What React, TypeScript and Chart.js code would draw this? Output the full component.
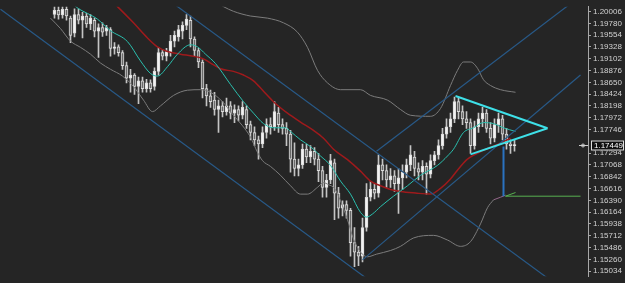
import React, { useEffect, useRef } from 'react';
import { Chart, registerables } from 'chart.js';
Chart.register(...registerables);

// ---- candle data (one candle per index) ----
const candleOpen = [
  1.1995, 1.2003, 1.1994, 1.2005, 1.1988, 1.1959, 1.1995, 1.1984, 1.1992, 1.1977,
  1.1984, 1.1963, 1.1970, 1.1963, 1.1966, 1.1930, 1.1933, 1.1922, 1.1897, 1.1873,
  1.1879, 1.1857, 1.1868, 1.1853, 1.1864, 1.1857, 1.1886, 1.1922, 1.1915, 1.1922,
  1.1944, 1.1952, 1.1963, 1.1974, 1.1984, 1.1948, 1.1926, 1.1904, 1.1853, 1.1839,
  1.1831, 1.1813, 1.1820, 1.1809, 1.1820, 1.1806, 1.1813, 1.1802, 1.1813, 1.1784,
  1.1769, 1.1755, 1.1747, 1.1769, 1.1784, 1.1780, 1.1806, 1.1784, 1.1777, 1.1766,
  1.1718, 1.1700, 1.1707, 1.1737, 1.1722, 1.1733, 1.1718, 1.1696, 1.1664, 1.1678,
  1.1711, 1.1653, 1.1624, 1.1631, 1.1620, 1.1558, 1.1540, 1.1532, 1.1587, 1.1645,
  1.1660, 1.1653, 1.1707, 1.1696, 1.1678, 1.1686, 1.1671, 1.1682, 1.1693, 1.1707,
  1.1722, 1.1700, 1.1693, 1.1704, 1.1689, 1.1715, 1.1726, 1.1744, 1.1766, 1.1780,
  1.1795, 1.1828, 1.1809, 1.1795, 1.1788, 1.1744, 1.1780, 1.1795, 1.1806, 1.1777,
  1.1758, 1.1784, 1.1795, 1.1766, 1.1747, 1.1744,
];
const candleHigh = [
  1.2016, 1.2014, 1.2018, 1.2012, 1.1992, 1.2006, 1.2006, 1.1999, 1.1997, 1.1995,
  1.1988, 1.1977, 1.1979, 1.1974, 1.1970, 1.1941, 1.1937, 1.1926, 1.1904, 1.1890,
  1.1882, 1.1875, 1.1875, 1.1871, 1.1870, 1.1893, 1.1932, 1.1928, 1.1930, 1.1955,
  1.1963, 1.1974, 1.1981, 1.1995, 1.1992, 1.1952, 1.1930, 1.1908, 1.1861, 1.1850,
  1.1846, 1.1831, 1.1828, 1.1835, 1.1828, 1.1822, 1.1820, 1.1828, 1.1820, 1.1791,
  1.1780, 1.1762, 1.1780, 1.1795, 1.1797, 1.1828, 1.1817, 1.1795, 1.1788, 1.1773,
  1.1749, 1.1718, 1.1747, 1.1747, 1.1744, 1.1740, 1.1729, 1.1704, 1.1689, 1.1727,
  1.1718, 1.1664, 1.1638, 1.1638, 1.1624, 1.1587, 1.1551, 1.1605, 1.1671, 1.1675,
  1.1671, 1.1726, 1.1718, 1.1707, 1.1700, 1.1696, 1.1700, 1.1707, 1.1718, 1.1744,
  1.1733, 1.1711, 1.1715, 1.1711, 1.1726, 1.1733, 1.1755, 1.1777, 1.1795, 1.1806,
  1.1837, 1.1835, 1.1820, 1.1809, 1.1795, 1.1791, 1.1806, 1.1817, 1.1813, 1.1788,
  1.1795, 1.1806, 1.1802, 1.1777, 1.1755, 1.1755,
];
const candleLow = [
  1.1988, 1.1986, 1.1988, 1.1984, 1.1941, 1.1952, 1.1977, 1.1950, 1.1970, 1.1966,
  1.1952, 1.1913, 1.1953, 1.1955, 1.1915, 1.1919, 1.1915, 1.1890, 1.1864, 1.1846,
  1.1842, 1.1824, 1.1846, 1.1846, 1.1846, 1.1850, 1.1879, 1.1908, 1.1906, 1.1915,
  1.1933, 1.1944, 1.1948, 1.1966, 1.1933, 1.1915, 1.1893, 1.1835, 1.1820, 1.1817,
  1.1802, 1.1769, 1.1799, 1.1802, 1.1795, 1.1788, 1.1791, 1.1795, 1.1777, 1.1755,
  1.1744, 1.1718, 1.1740, 1.1758, 1.1766, 1.1773, 1.1769, 1.1766, 1.1744, 1.1693,
  1.1686, 1.1686, 1.1700, 1.1711, 1.1711, 1.1707, 1.1675, 1.1645, 1.1645, 1.1671,
  1.1602, 1.1605, 1.1609, 1.1605, 1.1532, 1.1512, 1.1514, 1.1521, 1.1580, 1.1638,
  1.1642, 1.1645, 1.1678, 1.1664, 1.1664, 1.1656, 1.1614, 1.1660, 1.1682, 1.1696,
  1.1686, 1.1678, 1.1678, 1.1651, 1.1682, 1.1707, 1.1718, 1.1737, 1.1758, 1.1769,
  1.1788, 1.1795, 1.1784, 1.1777, 1.1729, 1.1737, 1.1769, 1.1780, 1.1769, 1.1747,
  1.1751, 1.1769, 1.1755, 1.1737, 1.1729, 1.1733,
];
const candleClose = [
  1.2003, 1.1994, 1.2005, 1.1992, 1.1955, 1.1995, 1.1984, 1.1992, 1.1977, 1.1988,
  1.1963, 1.1970, 1.1961, 1.1970, 1.1930, 1.1933, 1.1922, 1.1897, 1.1873, 1.1879,
  1.1857, 1.1868, 1.1853, 1.1864, 1.1853, 1.1886, 1.1922, 1.1915, 1.1924, 1.1944,
  1.1955, 1.1966, 1.1974, 1.1986, 1.1948, 1.1926, 1.1904, 1.1853, 1.1839, 1.1828,
  1.1813, 1.1820, 1.1809, 1.1820, 1.1806, 1.1813, 1.1802, 1.1817, 1.1784, 1.1769,
  1.1755, 1.1747, 1.1769, 1.1784, 1.1780, 1.1809, 1.1784, 1.1777, 1.1766, 1.1718,
  1.1700, 1.1707, 1.1737, 1.1722, 1.1733, 1.1718, 1.1696, 1.1664, 1.1678, 1.1715,
  1.1653, 1.1624, 1.1631, 1.1620, 1.1558, 1.1540, 1.1532, 1.1587, 1.1645, 1.1660,
  1.1653, 1.1707, 1.1696, 1.1678, 1.1686, 1.1671, 1.1682, 1.1693, 1.1707, 1.1726,
  1.1700, 1.1693, 1.1704, 1.1689, 1.1715, 1.1726, 1.1744, 1.1766, 1.1780, 1.1795,
  1.1828, 1.1809, 1.1795, 1.1788, 1.1744, 1.1780, 1.1795, 1.1806, 1.1777, 1.1758,
  1.1784, 1.1795, 1.1766, 1.1747, 1.1744, 1.17449,
];

// ---- price axis ----
const priceTicks = [
  1.20006, 1.1978, 1.19554, 1.19328, 1.19102, 1.18876, 1.1865, 1.18424, 1.18198,
  1.17972, 1.17746, 1.17294, 1.17068, 1.16842, 1.16616, 1.1639, 1.16164, 1.15938,
  1.15712, 1.15486, 1.1526, 1.15034,
];
const priceMin = 1.14938;
const priceMax = 1.20097;
const lastPrice = 1.17449;

// ---- indicators: [bar index, price] ----
const maFast = [
  [4, 1.2019], [6, 1.2006], [8.25, 1.1997], [10.75, 1.1986], [14, 1.1964], [18.25, 1.1943],
  [21.5, 1.1906], [24, 1.1882], [25.75, 1.1877], [28.25, 1.1895], [30.75, 1.1919], [34, 1.1937],
  [35.75, 1.1933], [37.75, 1.1919], [40.25, 1.1901], [44, 1.1861], [47.25, 1.1828], [49.75, 1.1806],
  [52.25, 1.1786], [54.75, 1.1778], [57.75, 1.1778], [59, 1.1771], [61.5, 1.1755], [64, 1.1742],
  [66.5, 1.1724], [69, 1.1706], [71.5, 1.1676], [74, 1.1651], [76.5, 1.1616], [78, 1.1607],
  [79.5, 1.1613], [81.5, 1.1627], [84.75, 1.1647], [88.25, 1.1667], [91.5, 1.1687], [95.75, 1.1706],
  [98.25, 1.1724], [99.75, 1.1737], [102.25, 1.1769], [104.75, 1.1778], [107.25, 1.1788],
  [109.75, 1.1786], [112.25, 1.1778], [115.25, 1.1771],
];
const maSlow = [
  [12.75, 1.2032], [15.75, 1.201], [19.75, 1.1979], [23.25, 1.195], [25.75, 1.1933], [28.25, 1.1924],
  [31.5, 1.1919], [34.75, 1.1915], [37.25, 1.191], [39, 1.1902], [41.5, 1.1891], [44.75, 1.1886],
  [47.25, 1.1879], [49.75, 1.1868], [52.25, 1.1848], [54.75, 1.1828], [58.25, 1.1806], [61.5, 1.1789],
  [64.75, 1.1773], [67.25, 1.1758], [69.75, 1.1737], [73.25, 1.1717], [76.5, 1.1695], [79, 1.1676],
  [81.5, 1.1667], [84, 1.166], [86.5, 1.1656], [90.25, 1.1653], [94, 1.1651], [96.5, 1.1662],
  [99, 1.168], [101.5, 1.1704], [103.25, 1.1718], [107.25, 1.1735], [110.75, 1.1746], [114, 1.1758],
];
const bandUpper = [
  [40.25, 1.2019], [42.25, 1.201], [44.75, 1.2001], [49, 1.1992], [53.25, 1.1988], [57.25, 1.1979],
  [60.75, 1.1961], [63.25, 1.1932], [65.75, 1.1888], [68.25, 1.1864], [71.5, 1.1851], [76.5, 1.1851],
  [79, 1.184], [83.25, 1.1831], [86.5, 1.1813], [89, 1.1802], [94, 1.18], [96.5, 1.1815], [99, 1.1859],
  [100.75, 1.1888], [102.25, 1.1904], [104, 1.1904], [105.75, 1.1892], [107.25, 1.187], [109, 1.1859],
  [111.5, 1.1851], [115.25, 1.1846],
];
const bandLower = [
  [-1, 1.1988], [1.5, 1.1968], [4, 1.1944], [6.5, 1.1932], [9, 1.1919], [11.5, 1.1902], [14, 1.189],
  [17, 1.1877], [19.75, 1.1857], [22.25, 1.1831], [24.5, 1.1809], [26.5, 1.182], [29.75, 1.184],
  [33.25, 1.185], [36.5, 1.1851], [39, 1.1846], [42, 1.1828], [44.5, 1.1804], [47, 1.1782], [49, 1.176],
  [50.75, 1.1731], [52, 1.1715], [54, 1.1704], [56.5, 1.1687], [59, 1.1667], [61.5, 1.1651],
  [63.25, 1.1651], [65.75, 1.1664], [67.25, 1.1673], [68.5, 1.1669], [70, 1.1662], [71.5, 1.1638],
  [73.25, 1.1602], [74.75, 1.1565], [76.5, 1.154], [78.25, 1.1531], [80.5, 1.1536], [84, 1.1543],
  [86.5, 1.1551], [89.75, 1.1567], [94.75, 1.1572], [98.25, 1.1563], [101.5, 1.1551], [104, 1.156],
  [106.5, 1.1594], [108.25, 1.1625], [109.75, 1.164],
];
const bandLowerTail = [[109.75, 1.164], [111.5, 1.1645], [112.75, 1.1649]];

// ---- drawn objects: [bar index, price] ----
const downChannelLower = [[-13.5, 1.2005], [81.5, 1.147]];
const downChannelUpper = [[26.5, 1.2034], [126.5, 1.1472]];
const upChannelUpper = [[80.5, 1.1733], [130.25, 1.2023]];
const upChannelLower = [[77, 1.1525], [131.5, 1.1879]];
const triangleUpper = [[100.25, 1.1839], [123.25, 1.1777]];
const triangleLower = [[104, 1.1727], [123.25, 1.1777]];
const targetDrop = [[112.25, 1.1742], [112.25, 1.1647]];
const targetLevel = [[112.75, 1.1647], [131.5, 1.1647]];
const targetStub = [[112.75, 1.1647], [115.25, 1.1654]];

const toXY = (arr: number[][]) => arr.map(([x, y]) => ({ x, y }));

function lineSet(arr: number[][], color: string, width: number, order: number, smooth = false) {
  return {
    type: 'line' as const,
    data: toXY(arr),
    borderColor: color,
    borderWidth: width,
    pointRadius: 0,
    fill: false,
    tension: smooth ? 0.4 : 0,
    cubicInterpolationMode: smooth ? ('monotone' as const) : ('default' as const),
    order,
  };
}

export default function App() {
  const ref = useRef<HTMLCanvasElement>(null);

  useEffect(() => {
    document.body.style.margin = '0';
    const idx = candleOpen.map((_, i) => i);

    const background = {
      id: 'background',
      beforeDraw(c: any) {
        const ctx = c.ctx;
        ctx.save();
        ctx.fillStyle = '#252525';
        ctx.fillRect(0, 0, c.width, c.height);
        ctx.restore();
      },
    };

    const priceTag = {
      id: 'priceTag',
      afterDraw(c: any) {
        const ctx = c.ctx;
        const yScale = c.scales.y;
        const y = Math.round(yScale.getPixelForValue(lastPrice)) + 0.5;
        const left = yScale.left;
        ctx.save();
        ctx.strokeStyle = '#cfcfcf';
        ctx.lineWidth = 1;
        ctx.beginPath();
        ctx.moveTo(left - 9, y);
        ctx.lineTo(left, y);
        ctx.stroke();
        ctx.beginPath();
        ctx.arc(left - 5, y, 1.5, 0, Math.PI * 2);
        ctx.stroke();
        ctx.fillStyle = '#111111';
        ctx.fillRect(left + 3, y - 5, 33, 10);
        ctx.strokeStyle = '#dedede';
        ctx.strokeRect(left + 3.5, y - 4.5, 32, 9);
        ctx.fillStyle = '#ffffff';
        ctx.font = '8px "Liberation Sans", Arial, sans-serif';
        ctx.textBaseline = 'middle';
        ctx.textAlign = 'left';
        ctx.fillText(lastPrice.toFixed(5), left + 6, y + 0.5);
        ctx.restore();
      },
    };

    const chart = new Chart(ref.current as HTMLCanvasElement, {
      type: 'line',
      data: {
        datasets: [
          {
            type: 'bar',
            data: idx.map((i) => ({ x: i, y: [candleLow[i], candleHigh[i]] })),
            backgroundColor: '#c4c4c4',
            barThickness: 1,
            grouped: false,
            order: 11,
          } as any,
          {
            type: 'bar',
            data: idx.map((i) => ({ x: i, y: [candleOpen[i], candleClose[i]] })),
            backgroundColor: idx.map((i) => (candleClose[i] >= candleOpen[i] ? '#f2f2f2' : '#6a6a6a')),
            borderColor: '#dadada',
            borderWidth: 1,
            borderSkipped: false,
            barThickness: 3,
            minBarLength: 1,
            grouped: false,
            order: 10,
          } as any,
          lineSet(bandUpper, '#7c7c7c', 1, 6, true),
          lineSet(bandLower, '#7c7c7c', 1, 6, true),
          lineSet(bandLowerTail, '#94668a', 1, 6, true),
          lineSet(maSlow, '#9e1a1c', 1.5, 5, true),
          lineSet(maFast, '#2bbfae', 1, 4, true),
          lineSet(downChannelLower, '#285987', 1.2, 3),
          lineSet(downChannelUpper, '#285987', 1.2, 3),
          lineSet(upChannelUpper, '#285987', 1.2, 3),
          lineSet(upChannelLower, '#285987', 1.2, 3),
          lineSet(targetDrop, '#2a72c0', 2, 2),
          lineSet(targetLevel, '#58b050', 1, 2),
          lineSet(targetStub, '#58b050', 1, 2),
          lineSet(triangleUpper, '#3ee0e8', 2, 1),
          lineSet(triangleLower, '#3ee0e8', 2, 1),
        ] as any,
      },
      options: {
        animation: false,
        responsive: false,
        maintainAspectRatio: false,
        events: [],
        layout: { padding: 0 },
        plugins: { legend: { display: false }, tooltip: { enabled: false } },
        scales: {
          x: {
            type: 'linear',
            min: -13.625,
            max: 133.375,
            offset: false,
            display: false,
            grid: { display: false },
          },
          y: {
            type: 'linear',
            position: 'right',
            min: priceMin,
            max: priceMax,
            afterFit: (s: any) => {
              s.width = 37;
            },
            afterBuildTicks: (s: any) => {
              s.ticks = priceTicks.map((v) => ({ value: v }));
            },
            ticks: {
              autoSkip: false,
              color: '#d2d2d2',
              padding: 2,
              font: { size: 8, family: '"Liberation Sans", Arial, sans-serif' },
              callback: (v: any) => Number(v).toFixed(5),
            },
            grid: { drawOnChartArea: false, drawTicks: true, tickLength: 3, color: '#a8a8a8' },
            border: { display: true, color: '#a8a8a8' },
          },
        },
      } as any,
      plugins: [background, priceTag],
    });
    return () => chart.destroy();
  }, []);

  return (
    <div style={{ position: 'fixed', left: 0, top: 0, width: 625, height: 283 }}>
      <canvas ref={ref} width={625} height={283} style={{ display: 'block' }} />
    </div>
  );
}
